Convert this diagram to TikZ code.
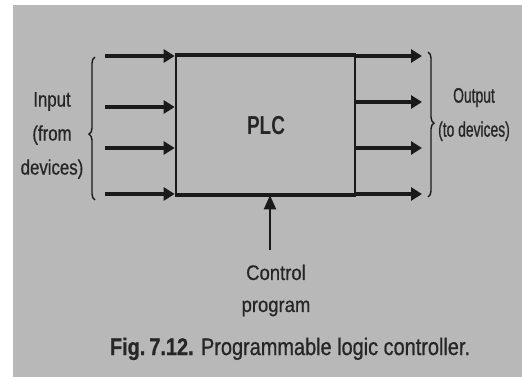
\documentclass[tikz,border=0pt]{standalone}
\usepackage{fontspec}
\setmainfont{Liberation Sans}
\newfontfamily\fL[FakeStretch=0.80,FakeBold=0.7]{Liberation Sans}
\newfontfamily\fR[FakeStretch=0.66,FakeBold=0.7]{Liberation Sans}
\newfontfamily\fM[FakeStretch=0.88,FakeBold=0.7]{Liberation Sans}
\newfontfamily\fP[FakeStretch=0.73]{Liberation Sans}
\newfontfamily\fC[FakeStretch=0.83,FakeBold=0.8]{Liberation Sans}
\usetikzlibrary{arrows.meta,decorations.pathreplacing}
\definecolor{ink}{RGB}{26,26,26}
\definecolor{txt}{RGB}{38,38,38}
\definecolor{paper}{RGB}{184,184,184}
\tikzset{
  flow/.style={draw=ink, line width=3.2pt, -{Triangle[length=11pt,width=13pt]}},
  thinflow/.style={draw=ink, line width=2.2pt, -{Triangle[length=14pt,width=12pt]}},
  plain/.style={draw=ink, line width=3.2pt},
  boxst/.style={draw=ink, line width=2.6pt, minimum width=179pt, minimum height=138pt, inner sep=0pt},
  bracest/.style={draw=ink, line width=1.4pt, decorate, decoration={brace, amplitude=6pt}},
  lbl/.style={text=txt, inner sep=0pt, align=center},
}
\begin{document}
\begin{tikzpicture}[x=1pt, y=-1pt]
\useasboundingbox (0,0) rectangle (522,378);
\fill[white] (0,0) rectangle (522,378);
\fill[paper] (13,5) rectangle (522,377);

% PLC box
\node[boxst] (plc) at (265.5,125) {};
\node[lbl, font=\fP\fontsize{26}{30}\selectfont\bfseries] (plcl) at (266,125.5) {PLC};

% input arrows
\coordinate (i1) at (105,56);
\coordinate (i2) at (105,107);
\coordinate (i3) at (105,148);
\coordinate (i4) at (105,194);
\foreach \k in {1,2,3,4} \draw[flow] (i\k) -- (i\k -| plc.west);

% output arrows
\coordinate (o1) at (422,56);
\coordinate (o2) at (422,102);
\coordinate (o3) at (422,148);
\coordinate (o4) at (422,194);
\foreach \k in {1,2,3,4} \draw[flow] (o\k -| plc.east) -- (o\k);

% top and bottom rails through the box
\draw[plain] (plc.north west) -- (plc.north east);
\draw[plain] (plc.south west) -- (plc.south east);

% braces
\coordinate (lb1) at (95,200);
\coordinate (lb2) at (95,57);
\draw[bracest, decoration={aspect=0.46}] (lb1) -- (lb2);
\coordinate (rb1) at (428,52);
\coordinate (rb2) at (428,197);
\draw[bracest, decoration={aspect=0.49}] (rb1) -- (rb2);

% labels
\node[lbl, font=\fL\fontsize{21}{34}\selectfont] (inl) at (52,135.5) {Input\\(from\\devices)};
\node[lbl, font=\fR\fontsize{21}{34}\selectfont] (outl) at (474,114.5) {Output\\(to devices)};
\node[lbl, font=\fM\fontsize{21}{32}\selectfont] (ctrl) at (276,290.5) {Control\\program};

% control program arrow
\coordinate (cp) at (270,250);
\draw[thinflow] (cp) -- (cp |- plc.south);

% caption
\node[lbl, anchor=base, font=\fC\fontsize{24}{28}\selectfont] (cap) at (290,355) {\textbf{Fig.\,7.12.} Programmable logic controller.};
\end{tikzpicture}
\end{document}
